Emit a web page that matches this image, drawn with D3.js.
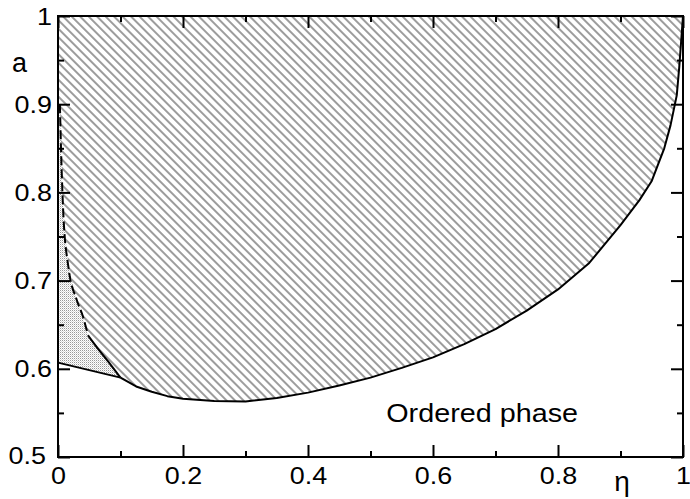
<!DOCTYPE html>
<html>
<head>
<meta charset="utf-8">
<script src="https://cdn.jsdelivr.net/npm/d3@7"></script>
<style>
  html, body { margin: 0; padding: 0; background: #fff; }
  svg { display: block; }
  text { font-family: "Liberation Sans", Arial, sans-serif; fill: #000; }
</style>
</head>
<body>
<svg id="chart" width="690" height="499"></svg>
<script>
// Axis ticks
const etaTicks = [0, 0.2, 0.4, 0.6, 0.8, 1];
const etaMinorTicks = [0.1, 0.3, 0.5, 0.7, 0.9];
const aTicks = [0.5, 0.6, 0.7, 0.8, 0.9, 1];
const aMinorTicks = [0.55, 0.65, 0.75, 0.85, 0.95];

// Lower boundary of the hatched region (order line)
const boundaryEta = [0.10, 0.125, 0.15, 0.175, 0.20, 0.25, 0.30, 0.35, 0.40, 0.45, 0.50, 0.55, 0.60, 0.65, 0.70, 0.75, 0.80, 0.85, 0.90, 0.93, 0.95, 0.97, 0.98, 0.99, 0.994, 1.00];
const boundaryA   = [0.590, 0.580, 0.574, 0.569, 0.566, 0.5635, 0.563, 0.567, 0.573, 0.581, 0.590, 0.601, 0.613, 0.628, 0.645, 0.666, 0.690, 0.720, 0.763, 0.791, 0.813, 0.850, 0.876, 0.910, 0.942, 1.000];

// Left edge of the hatched region (dashed near the axis)
const edgeEta = [0.003, 0.005, 0.0085, 0.0165, 0.030, 0.040, 0.048, 0.067, 0.085, 0.10];
const edgeA   = [0.900, 0.845, 0.776, 0.716, 0.678, 0.659, 0.638, 0.620, 0.604, 0.590];

// Lower edge of the dotted region
const baseEta = [0.0, 0.10];
const baseA   = [0.607, 0.590];

const svg = d3.select("#chart");
const x = d3.scaleLinear().domain([0, 1]).range([58, 683]);
const y = d3.scaleLinear().domain([0.5, 1]).range([457, 16]);

const zip = (xs, ys) => xs.map((v, i) => [v, ys[i]]);
const line = d3.line().x(d => x(d[0])).y(d => y(d[1]));
const smooth = d3.line().x(d => x(d[0])).y(d => y(d[1])).curve(d3.curveMonotoneX);

const boundary = zip(boundaryEta, boundaryA);
const edge = zip(edgeEta, edgeA);
const base = zip(baseEta, baseA);

// Fill patterns
const defs = svg.append("defs");
defs.append("pattern")
  .attr("id", "hatch").attr("patternUnits", "userSpaceOnUse")
  .attr("width", 6).attr("height", 6)
  .attr("patternTransform", "rotate(45)")
  .append("line")
  .attr("x1", 0).attr("x2", 6).attr("y1", 3).attr("y2", 3)
  .attr("stroke", "#222").attr("stroke-width", 0.9);

const dots = defs.append("pattern")
  .attr("id", "dots").attr("patternUnits", "userSpaceOnUse")
  .attr("width", 2).attr("height", 2);
dots.append("rect").attr("width", 2).attr("height", 2).attr("fill", "#fff");
dots.append("rect").attr("x", 0).attr("y", 0).attr("width", 1).attr("height", 1).attr("fill", "#999");
dots.append("rect").attr("x", 1).attr("y", 1).attr("width", 1).attr("height", 1).attr("fill", "#d8d8d8");

// Hatched region: above the order line and right of the left edge
const hatchPoly = [[0, 1], [1, 1]]
  .concat(boundary.slice().reverse())
  .concat(edge.slice().reverse().slice(1))
  .concat([[0, edgeA[0]]]);
svg.append("path")
  .attr("d", line(hatchPoly) + "Z")
  .attr("fill", "url(#hatch)");

// Dotted region between the axis, the left edge and the base line
const dotPoly = [[0, edgeA[0]]].concat(edge).concat(base.slice().reverse());
svg.append("path")
  .attr("d", line(dotPoly) + "Z")
  .attr("fill", "url(#dots)");

// Boundary curves
const curveStyle = sel => sel.attr("fill", "none").attr("stroke", "#000")
  .attr("stroke-width", 2).attr("stroke-linejoin", "round");

svg.append("path").attr("d", line(boundary)).call(curveStyle);
svg.append("path").attr("d", line(base)).call(curveStyle);
svg.append("path").attr("d", smooth(edge.filter(d => d[0] >= 0.048))).call(curveStyle);
svg.append("path").attr("d", smooth(edge.filter(d => d[0] <= 0.048))).call(curveStyle)
  .attr("stroke-dasharray", "9,4");

// Axes: ticks point inward on all four sides
const fmt = d3.format("~g");
function styleAxis(g) {
  g.select(".domain").remove();
  g.selectAll(".tick line").attr("stroke", "#000").attr("stroke-width", 2);
  g.selectAll(".tick text").attr("font-size", 23).attr("fill", "#000");
}
const gx = svg.append("g").attr("transform", `translate(0,${y(0.5)})`)
  .call(d3.axisBottom(x).tickValues(etaTicks).tickSize(-12).tickFormat(fmt))
  .call(styleAxis);
gx.selectAll(".tick text")
  .attr("x", 0).attr("y", 0).attr("dy", null)
  .attr("transform", "translate(0,27) scale(1.17,1)");
svg.append("g").attr("transform", `translate(0,${y(0.5)})`)
  .call(d3.axisBottom(x).tickValues(etaMinorTicks).tickSize(-6).tickFormat(""))
  .call(styleAxis);
svg.append("g").attr("transform", `translate(0,${y(1)})`)
  .call(d3.axisTop(x).tickValues(etaTicks).tickSize(-12).tickFormat(""))
  .call(styleAxis);
svg.append("g").attr("transform", `translate(0,${y(1)})`)
  .call(d3.axisTop(x).tickValues(etaMinorTicks).tickSize(-6).tickFormat(""))
  .call(styleAxis);

const gy = svg.append("g").attr("transform", `translate(${x(0)},0)`)
  .call(d3.axisLeft(y).tickValues(aTicks).tickSize(-12).tickFormat(fmt))
  .call(styleAxis);
gy.selectAll(".tick text")
  .attr("x", 0).attr("y", 0).attr("dy", null)
  .attr("text-anchor", "end")
  .attr("transform", d => d === 0.5 ? "translate(-12,6) scale(1.17,1)" : "translate(-6,8) scale(1.17,1)");
svg.append("g").attr("transform", `translate(${x(0)},0)`)
  .call(d3.axisLeft(y).tickValues(aMinorTicks).tickSize(-6).tickFormat(""))
  .call(styleAxis);
svg.append("g").attr("transform", `translate(${x(1)},0)`)
  .call(d3.axisRight(y).tickValues(aTicks).tickSize(-12).tickFormat(""))
  .call(styleAxis);
svg.append("g").attr("transform", `translate(${x(1)},0)`)
  .call(d3.axisRight(y).tickValues(aMinorTicks).tickSize(-6).tickFormat(""))
  .call(styleAxis);

// Frame
svg.append("rect")
  .attr("x", x(0)).attr("y", y(1))
  .attr("width", x(1) - x(0)).attr("height", y(0.5) - y(1))
  .attr("fill", "none").attr("stroke", "#000").attr("stroke-width", 2);

// Axis titles and region label
svg.append("text").attr("x", 12).attr("y", 72).attr("font-size", 27).text("a");
svg.append("text").attr("x", 622).attr("y", 491).attr("font-size", 28)
  .attr("text-anchor", "middle").text("η");
svg.append("text")
  .attr("transform", "translate(578,422) scale(1.15,1)")
  .attr("text-anchor", "end").attr("font-size", 25)
  .text("Ordered phase");
</script>
</body>
</html>
